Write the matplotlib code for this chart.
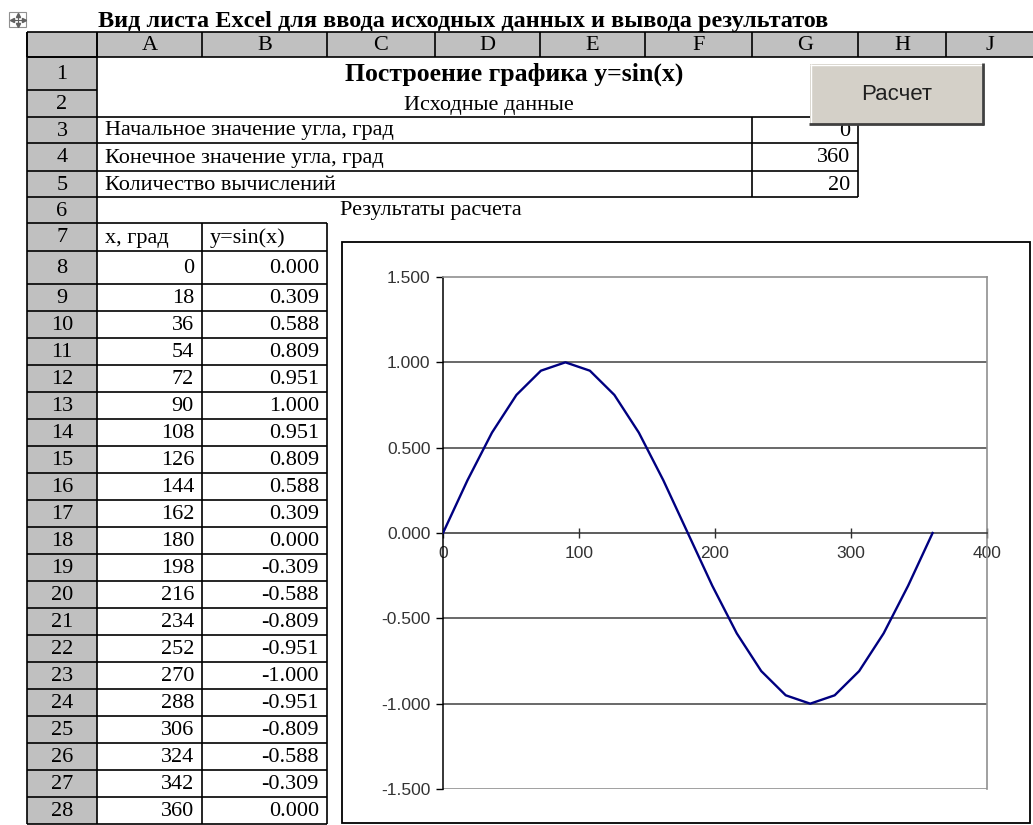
import matplotlib
matplotlib.use("Agg")
import matplotlib.pyplot as plt
from matplotlib.patches import Rectangle

# data
x_deg = [0, 18, 36, 54, 72, 90, 108, 126, 144, 162, 180,
         198, 216, 234, 252, 270, 288, 306, 324, 342, 360]
y_sin = [0.000, 0.309, 0.588, 0.809, 0.951, 1.000, 0.951, 0.809, 0.588, 0.309, 0.000,
         -0.309, -0.588, -0.809, -0.951, -1.000, -0.951, -0.809, -0.588, -0.309, 0.000]
col_names = ['A', 'B', 'C', 'D', 'E', 'F', 'G', 'H', 'J']
input_labels = ['Начальное значение угла, град', 'Конечное значение угла, град',
                'Количество вычислений']
input_values = [0, 360, 20]
y_ticks = [-1.5, -1.0, -0.5, 0.0, 0.5, 1.0, 1.5]
x_ticks = [0, 100, 200, 300, 400]

W, H = 1033, 825
SERIF = 'Liberation Serif'
SANS = 'Liberation Sans'
GRAY = '#c0c0c0'
FS = 16  # cell font size

fig = plt.figure(figsize=(W / 100, H / 100), dpi=100)
bg = fig.add_axes([0, 0, 1, 1])
bg.set_xlim(0, W)
bg.set_ylim(H, 0)
bg.axis('off')

# sheet geometry (pixels)
col_x = [97, 202, 327, 435, 540, 645, 752, 858, 946, 1033]
hdr_top, hdr_bot = 32, 57
row_y = [57, 90, 117, 143, 171, 197, 223, 251, 284]
for i in range(20):
    row_y.append(284 + 27 * (i + 1))
rh_left, rh_right = 27, 97


def hline(y, x0, x1, lw=1.2, c='black', z=3):
    bg.plot([x0, x1], [y, y], color=c, lw=lw, zorder=z, solid_capstyle='butt')


def vline(x, y0, y1, lw=1.2, c='black', z=3):
    bg.plot([x, x], [y0, y1], color=c, lw=lw, zorder=z, solid_capstyle='butt')


def cell_text(x, y, s, ha='left', **kw):
    bg.text(x, y, s, family=SERIF, fontsize=kw.pop('fontsize', FS), ha=ha,
            va='center', zorder=4, **kw)


# caption above sheet
bg.text(98, 27, 'Вид листа Excel для ввода исходных данных и вывода результатов',
        family=SERIF, fontsize=17.5, fontweight='bold', ha='left', va='baseline')

# move handle icon
bg.add_patch(Rectangle((9, 12), 17, 15, fill=False, ec='#909090', lw=0.8))
bg.plot([17.5, 17.5], [14.5, 24.5], color='#606060', lw=0.8)
bg.plot([11.5, 23.5], [19.5, 19.5], color='#606060', lw=0.8)
bg.plot([17.5], [14.5], marker='^', ms=3, color='#606060')
bg.plot([17.5], [24.5], marker='v', ms=3, color='#606060')
bg.plot([11.5], [19.5], marker='<', ms=3, color='#606060')
bg.plot([23.5], [19.5], marker='>', ms=3, color='#606060')

# column header row
bg.add_patch(Rectangle((rh_left, hdr_top), W - rh_left, hdr_bot - hdr_top,
                       fc=GRAY, ec='none', zorder=1))
hline(hdr_top, rh_left, W)
hline(hdr_bot, rh_left, W)
for x in [rh_left] + col_x[:-1]:
    vline(x, hdr_top, hdr_bot)
for i, name in enumerate(col_names):
    cell_text((col_x[i] + col_x[i + 1]) / 2, (hdr_top + hdr_bot) / 2 + 1, name, ha='center')

# row header column
bg.add_patch(Rectangle((rh_left, hdr_bot), rh_right - rh_left, row_y[-1] - hdr_bot,
                       fc=GRAY, ec='none', zorder=1))
vline(rh_left, hdr_top, row_y[-1])
vline(rh_right, hdr_top, row_y[-1])
for y in row_y:
    hline(y, rh_left, rh_right)
for r in range(len(row_y) - 1):
    cell_text((rh_left + rh_right) / 2, (row_y[r] + row_y[r + 1]) / 2 + 1, str(r + 1),
              ha='center')

# rows 1-2: headings
cell_text(514, (row_y[0] + row_y[1]) / 2 + 1, 'Построение графика y=sin(x)',
          ha='center', fontsize=18.5, fontweight='bold')
cell_text(489, (row_y[1] + row_y[2]) / 2 + 2, 'Исходные данные', ha='center')

# rows 3-5: input block
for k in range(4):
    hline(row_y[2 + k], col_x[0], col_x[7])
vline(col_x[6], row_y[2], row_y[5])
vline(col_x[7], row_y[2], row_y[5])
for k, (lab, val) in enumerate(zip(input_labels, input_values)):
    yc = (row_y[2 + k] + row_y[3 + k]) / 2 + 1
    cell_text(col_x[0] + 8, yc, lab)
    cell_text(col_x[7] - 8, yc, str(val), ha='right')

# row 6
cell_text(340, (row_y[5] + row_y[6]) / 2 + 1, 'Результаты расчета')

# rows 7-28: results table
for y in row_y[6:]:
    hline(y, col_x[0], col_x[2])
vline(col_x[1], row_y[6], row_y[-1])
vline(col_x[2], row_y[6], row_y[-1])
yc = (row_y[6] + row_y[7]) / 2 + 1
cell_text(col_x[0] + 8, yc, 'x, град')
cell_text(col_x[1] + 8, yc, 'y=sin(x)')
for k, (xv, yv) in enumerate(zip(x_deg, y_sin)):
    yc = (row_y[7 + k] + row_y[8 + k]) / 2 + 1
    cell_text(col_x[1] - 8, yc, str(xv), ha='right')
    cell_text(col_x[2] - 8, yc, '%.3f' % yv, ha='right')

# button
bg.add_patch(Rectangle((810, 64), 172, 60, fc='#d4d0c8', ec='none', zorder=6))
hline(64.5, 810, 982, lw=1.0, c='white', z=7)
vline(810.5, 64, 124, lw=1.0, c='white', z=7)
hline(124, 809, 984, lw=2.0, c='#404040', z=7)
vline(983, 63, 125, lw=2.0, c='#404040', z=7)
bg.text(897, 94, 'Расчет', family=SANS, fontsize=16, color='#202020',
        ha='center', va='center', zorder=8)

# chart frame
bg.add_patch(Rectangle((342, 242), 688, 581, fc='white', ec='black', lw=1.3, zorder=5))

# chart plot area
px0, px1, py0, py1 = 443, 987, 277, 789
ax = fig.add_axes([px0 / W, 1 - py1 / H, (px1 - px0) / W, (py1 - py0) / H])
ax.set_zorder(10)
ax.set_facecolor('white')
ax.plot(x_deg, y_sin, color='#000080', lw=1.7, zorder=5)
ax.set_xlim(0, 400)
ax.set_ylim(-1.5, 1.5)

for v in y_ticks:
    if v in (-1.5, 0.0, 1.5):
        continue
    ax.axhline(v, color='#404040', lw=1.1, zorder=1)
ax.axhline(-1.5, color='#909090', lw=1.2, zorder=1)

ax.spines['left'].set_color('black')
ax.spines['left'].set_linewidth(1.1)
ax.spines['bottom'].set_position(('data', 0))
ax.spines['bottom'].set_color('#303030')
ax.spines['bottom'].set_linewidth(1.1)
ax.spines['top'].set_color('#909090')
ax.spines['right'].set_color('#909090')
ax.spines['top'].set_linewidth(1.2)
ax.spines['right'].set_linewidth(1.2)

ax.set_yticks(y_ticks)
ax.set_yticklabels(['%.3f' % v for v in y_ticks])
ax.set_xticks(x_ticks)
ax.set_xticklabels([str(v) for v in x_ticks])
ax.tick_params(axis='y', direction='out', length=5, width=1, color='black',
               labelsize=12.5, labelcolor='#333333', pad=4)
ax.tick_params(axis='x', direction='inout', length=7, width=1, color='#303030',
               labelsize=12.5, labelcolor='#333333', pad=6)
for lab in ax.get_xticklabels() + ax.get_yticklabels():
    lab.set_family(SANS)

fig.savefig('out.png', dpi=100)
